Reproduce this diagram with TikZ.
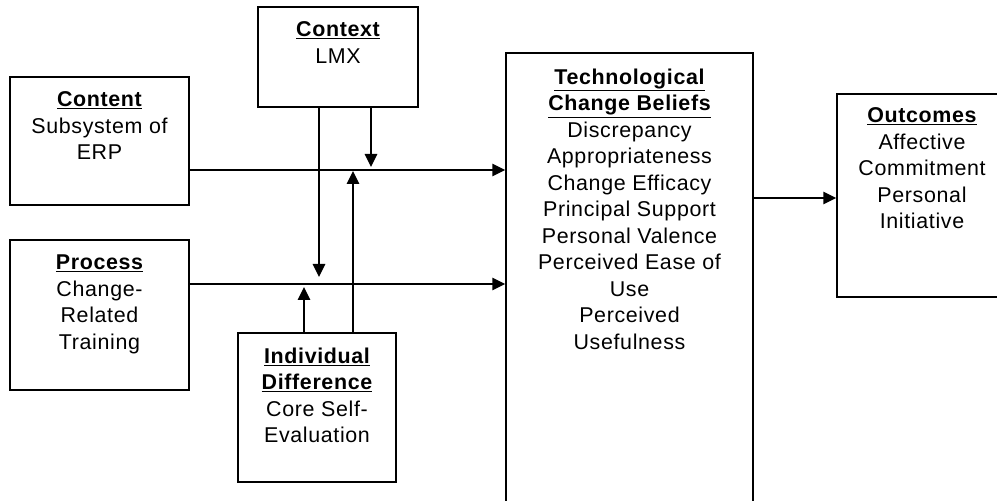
\documentclass[tikz,border=0pt]{standalone}
\usepackage{fontspec}
\setmainfont{Liberation Sans}[LetterSpace=3]
\usetikzlibrary{arrows.meta}
\begin{document}
\begin{tikzpicture}[x=1bp,y=-1bp,
  box/.style={draw, line width=1.5bp, inner sep=0pt},
  txt/.style={align=center, inner sep=0pt, anchor=north,
    font=\fontsize{21.5}{26.6}\selectfont},
  arr/.style={line width=1.5bp, -{Triangle[length=13bp,width=12.5bp]}}]
\useasboundingbox (0,0) rectangle (997,501);
\clip (0,0) rectangle (997,501);

% boxes
\node[box, minimum width=179bp, minimum height=128bp] (content) at (99.5,141) {};
\node[box, minimum width=160bp, minimum height=100bp] (context) at (338,57) {};
\node[box, minimum width=179bp, minimum height=150bp] (process) at (99.5,315) {};
\node[box, minimum width=158bp, minimum height=149bp] (indiv) at (317,407.5) {};
\node[box, minimum width=247bp, minimum height=487bp] (tech) at (629.5,296.5) {};
\node[box, minimum width=170bp, minimum height=203bp] (outc) at (922,195.5) {};

% box texts
\node[txt] (contentT) at ([yshift=-15.5bp]content.north) {\textbf{\underline{Content}}\\Subsystem of\\ERP};
\node[txt] (contextT) at ([yshift=-15.5bp]context.north) {\textbf{\underline{Context}}\\LMX};
\node[txt] (processT) at ([yshift=-15.5bp]process.north) {\textbf{\underline{Process}}\\Change-\\Related\\Training};
\node[txt] (indivT) at ([yshift=-15.5bp]indiv.north) {\textbf{\underline{Individual}}\\\textbf{\underline{Difference}}\\Core Self-\\Evaluation};
\node[txt] (techT) at ([yshift=-16.5bp]tech.north) {\textbf{\underline{Technological}}\\\textbf{\underline{Change Beliefs}}\\Discrepancy\\Appropriateness\\Change Efficacy\\Principal Support\\Personal Valence\\Perceived Ease of\\Use\\Perceived\\Usefulness};
\node[txt] (outcT) at ([yshift=-14.5bp]outc.north) {\textbf{\underline{Outcomes}}\\Affective\\Commitment\\Personal\\Initiative};

% reference coordinates for the connector routes
\coordinate (rowA) at (0,170);
\coordinate (rowB) at (0,284);
\coordinate (rowC) at (0,198);
\coordinate (colA) at (319,0);
\coordinate (colB) at (371,0);
\coordinate (colC) at (304,0);
\coordinate (colD) at (353,0);
\coordinate (tipA) at (0,167);
\coordinate (tipB) at (0,277);
\coordinate (tipC) at (0,171);
\coordinate (tipD) at (0,287);

% main paths
\draw[arr] (content.east |- rowA) -- (tech.west |- rowA);
\draw[arr] (process.east |- rowB) -- (tech.west |- rowB);
\draw[arr] (tech.east |- rowC) -- (outc.west |- rowC);

% moderators
\draw[arr] (context.south -| colB) -- (colB |- tipA);
\draw[arr] (context.south -| colA) -- (colA |- tipB);
\draw[arr] (indiv.north -| colD) -- (colD |- tipC);
\draw[arr] (indiv.north -| colC) -- (colC |- tipD);
\end{tikzpicture}
\end{document}
